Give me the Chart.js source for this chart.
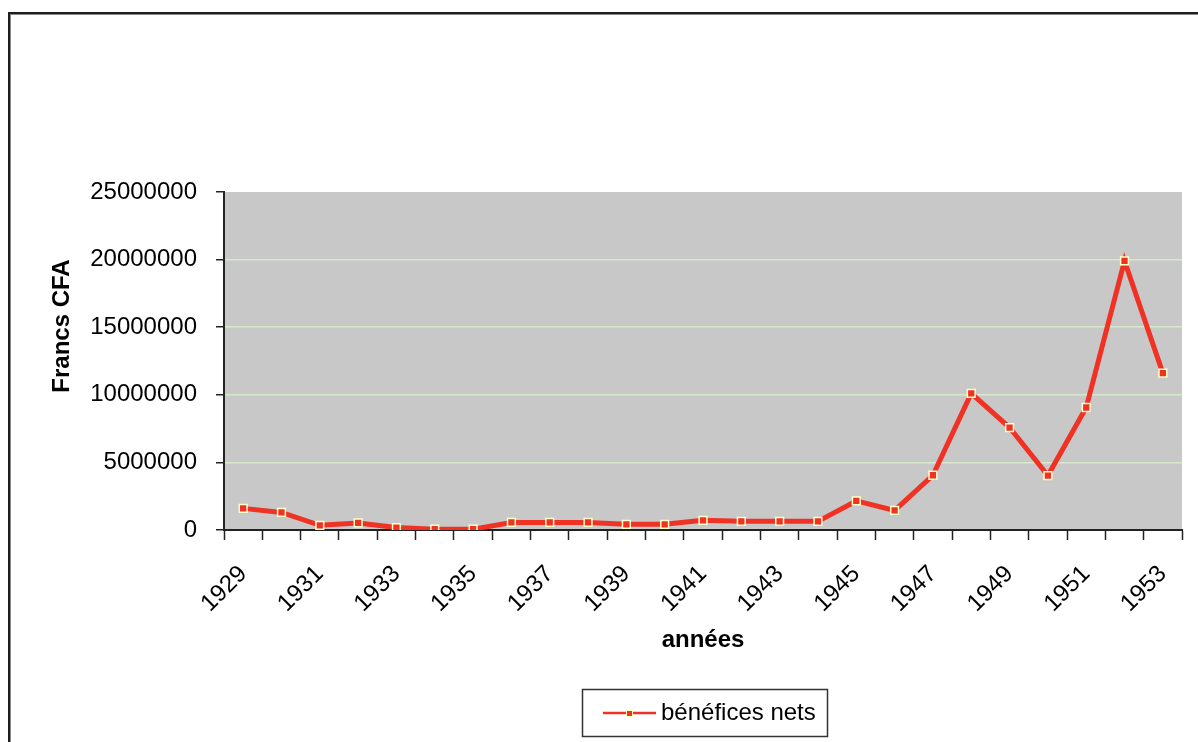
<!DOCTYPE html>
<html>
<head>
<meta charset="utf-8">
<script src="https://cdn.jsdelivr.net/npm/chart.js@4"></script>
<style>
  html, body { margin: 0; padding: 0; background: #fff; }
  #wrap { width: 1198px; height: 742px; }
</style>
</head>
<body>
<div id="wrap"><canvas id="myCanvas" width="1198" height="742"></canvas></div>
<script>
var years = ['1929','1930','1931','1932','1933','1934','1935','1936','1937','1938','1939','1940','1941',
             '1942','1943','1944','1945','1946','1947','1948','1949','1950','1951','1952','1953'];
var benefices = [1600000,1300000,350000,520000,180000,60000,60000,560000,560000,560000,420000,420000,720000,
                 640000,640000,640000,2150000,1450000,4050000,10100000,7580000,4030000,9060000,19900000,11600000];
var yTicks = [0,5000000,10000000,15000000,20000000,25000000];
var legendLabel = "bénéfices nets";
var yTitle = "Francs CFA";
var FONT = "'Liberation Sans', Arial, sans-serif";

// fond gris de la zone de tracé + cadre autour de l'image
var decor = {
  id: "decor",
  beforeDraw: function(chart) {
    var ctx = chart.ctx, a = chart.chartArea;
    ctx.save();
    ctx.fillStyle = "#fff";
    ctx.fillRect(0, 0, chart.width, chart.height);
    ctx.fillStyle = "#C8C8C8";
    ctx.fillRect(a.left, a.top, a.right - a.left, a.bottom - a.top);
    ctx.fillStyle = "#1e1e1e";
    ctx.fillRect(8, 12, chart.width - 8, 2);
    ctx.fillRect(8, 12, 2, chart.height - 12);
    ctx.fillStyle = "#8a8a8a";
    ctx.fillRect(10, 14, chart.width - 10, 1);
    ctx.fillRect(10, 14, 1, chart.height - 14);
    ctx.restore();
  },
  afterDraw: function(chart) {
    var ctx = chart.ctx;
    ctx.save();
    // titre de l'axe vertical (un peu au-dessus du centre, comme dans l'original)
    ctx.translate(62, 326);
    ctx.rotate(-Math.PI / 2);
    ctx.fillStyle = "#000";
    ctx.font = "bold 24px " + FONT;
    ctx.textAlign = "center";
    ctx.textBaseline = "middle";
    ctx.fillText(yTitle, 0, 0);
    ctx.restore();

    // légende encadrée
    ctx.save();
    ctx.strokeStyle = "#333";
    ctx.lineWidth = 1.5;
    ctx.strokeRect(582.5, 689.5, 245, 47);
    ctx.strokeStyle = "#F03224";
    ctx.lineWidth = 2.5;
    ctx.beginPath();
    ctx.moveTo(603, 713);
    ctx.lineTo(656, 713);
    ctx.stroke();
    ctx.fillStyle = "#F03224";
    ctx.fillRect(626, 710, 6, 6);
    ctx.strokeStyle = "#FFFFC8";
    ctx.lineWidth = 1;
    ctx.strokeRect(626.5, 710.5, 6, 6);
    ctx.fillStyle = "#000";
    ctx.font = "24px " + FONT;
    ctx.textBaseline = "middle";
    ctx.textAlign = "left";
    ctx.fillText(legendLabel, 661, 713);
    ctx.restore();
  }
};

var c = document.getElementById("myCanvas");
var ctx = c.getContext("2d");

const lineChart = new Chart(ctx, {
  type: "line",
  data: {
    labels: years,
    datasets: [{
      label: legendLabel,
      data: benefices,
      borderColor: "#F03224",
      borderWidth: 5,
      tension: 0,
      pointStyle: "rect",
      pointRadius: 5.5,
      pointBackgroundColor: "#F03224",
      pointBorderColor: "#FFFFC8",
      pointBorderWidth: 1.5
    }]
  },
  options: {
    responsive: false,
    animation: false,
    layout: { padding: { left: 40, right: 16, top: 192, bottom: 82 } },
    plugins: {
      legend: { display: false },
      tooltip: { enabled: false }
    },
    scales: {
      x: {
        offset: true,
        grid: { offset: true, drawOnChartArea: false, drawTicks: true, tickLength: 10, tickColor: "#222", tickWidth: 1.5 },
        border: { color: "#222", width: 2 },
        ticks: {
          autoSkip: false,
          minRotation: 45,
          maxRotation: 45,
          padding: 20,
          color: "#000",
          font: { family: FONT, size: 24 },
          callback: function(v, i) { return i % 2 === 0 ? years[i] : ""; }
        },
        title: { display: true, text: "années", color: "#000", font: { family: FONT, size: 24, weight: "bold" }, padding: { top: 0, bottom: 5 } },
        afterFit: function(s) { s.height = 130; s.paddingRight = 0; s.paddingLeft = 0; }
      },
      y: {
        min: 0,
        max: 25000000,
        afterBuildTicks: function(s) { s.ticks = yTicks.map(function(v) { return { value: v }; }); },
        grid: {
          color: function(cx) { var v = cx.tick && cx.tick.value; return (v === 0 || v === 25000000) ? "rgba(0,0,0,0)" : "#D6EACB"; },
          lineWidth: 1.5,
          tickLength: 8,
          tickColor: "#222",
          tickWidth: 1.5
        },
        border: { color: "#222", width: 2 },
        ticks: {
          padding: 19,
          color: "#000",
          font: { family: FONT, size: 24 },
          callback: function(v) { return String(v); }
        },
        title: { display: false },
        afterFit: function(s) { s.width = 184; }
      }
    }
  },
  plugins: [decor]
});
</script>
</body>
</html>
